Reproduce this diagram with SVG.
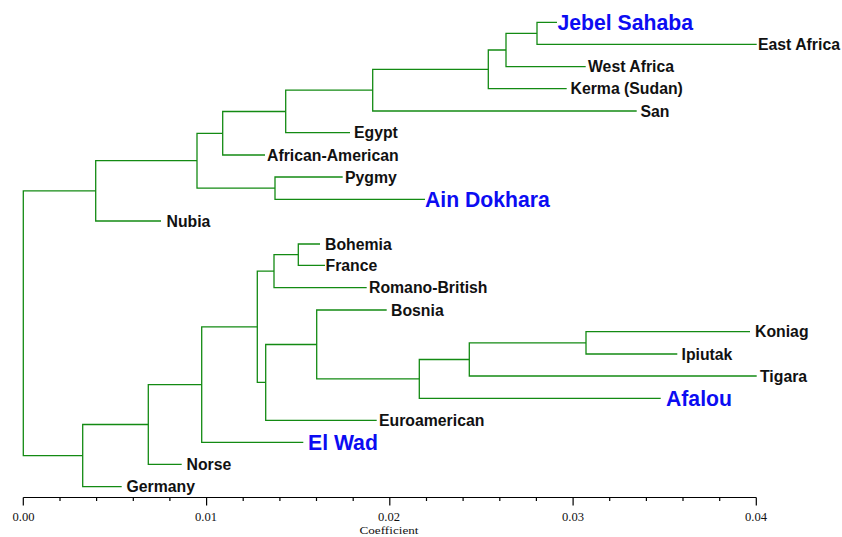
<svg xmlns="http://www.w3.org/2000/svg" width="842" height="537" viewBox="0 0 842 537">
<style>
.br{fill:none;stroke:#138a13;stroke-width:1.3}
.lb{font-family:"Liberation Sans",Arial,sans-serif;font-weight:bold;font-size:15.8px;fill:#111}
.bl{font-family:"Liberation Sans",Arial,sans-serif;font-weight:bold;font-size:21.2px;fill:#0c0cf2}
.ax{stroke:#000;stroke-width:1.2;fill:none}
.tk{font-family:"Liberation Serif","Times New Roman",serif;font-size:12px;fill:#111;text-anchor:middle}
</style>
<rect width="842" height="537" fill="#fff"/>
<g id="connectors">
<path class="br" d="M557 22.3H537V44.3H756.7"/>
<path class="br" d="M537 33.3H506V66.7H585.7"/>
<path class="br" d="M506 50H488.3V88.7H566.7"/>
<path class="br" d="M488.3 69.4H372.7V111H636.7"/>
<path class="br" d="M372.7 90.2H285.7V132.7H350"/>
<path class="br" d="M285.7 111.5H222.7V155H265"/>
<path class="br" d="M342.7 177H275V199.3H425"/>
<path class="br" d="M222.7 133.3H197V188.2H275"/>
<path class="br" d="M197 160.7H95.7V221H161"/>
<path class="br" d="M95.7 190.9H23.3V455.6H82.7"/>
<path class="br" d="M320 244H298.3V265.3H325"/>
<path class="br" d="M298.3 254.7H274V287.7H366.7"/>
<path class="br" d="M750 331.7H586V354H677.3"/>
<path class="br" d="M586 342.9H469.3V376H756.7"/>
<path class="br" d="M469.3 359.5H419.3V398.3H660.7"/>
<path class="br" d="M386.7 310H316.7V378.9H419.3"/>
<path class="br" d="M316.7 344.5H265.7V420.3H376.7"/>
<path class="br" d="M274 271.2H257.3V382.4H265.7"/>
<path class="br" d="M257.3 326.8H201.7V442.3H303.3"/>
<path class="br" d="M201.7 384.6H148.3V464.3H181.7"/>
<path class="br" d="M148.3 424.5H82.7V486.7H121.7"/>
</g>
<g id="n-jebel"><text class="bl" x="557.5" y="30">Jebel Sahaba</text></g>
<g id="n-eastafrica"><text class="lb" x="758" y="50">East Africa</text></g>
<g id="n-westafrica"><text class="lb" x="588" y="72.4">West Africa</text></g>
<g id="n-kerma"><text class="lb" x="570.5" y="94.4">Kerma (Sudan)</text></g>
<g id="n-san"><text class="lb" x="640.5" y="116.7">San</text></g>
<g id="n-egypt"><text class="lb" x="354" y="138.4">Egypt</text></g>
<g id="n-afram"><text class="lb" x="267" y="160.7">African-American</text></g>
<g id="n-pygmy"><text class="lb" x="345" y="182.7">Pygmy</text></g>
<g id="n-ain"><text class="bl" x="425" y="207">Ain Dokhara</text></g>
<g id="n-nubia"><text class="lb" x="166.5" y="226.7">Nubia</text></g>
<g id="n-bohemia"><text class="lb" x="325" y="249.7">Bohemia</text></g>
<g id="n-france"><text class="lb" x="325.5" y="271">France</text></g>
<g id="n-romano"><text class="lb" x="369" y="293.4">Romano-British</text></g>
<g id="n-bosnia"><text class="lb" x="391" y="315.7">Bosnia</text></g>
<g id="n-koniag"><text class="lb" x="755" y="337.4">Koniag</text></g>
<g id="n-ipiutak"><text class="lb" x="681.5" y="359.7">Ipiutak</text></g>
<g id="n-tigara"><text class="lb" x="760" y="381.7">Tigara</text></g>
<g id="n-afalou"><text class="bl" x="666" y="406">Afalou</text></g>
<g id="n-euro"><text class="lb" x="379" y="426">Euroamerican</text></g>
<g id="n-elwad"><text class="bl" x="308" y="450">El Wad</text></g>
<g id="n-norse"><text class="lb" x="186.5" y="470">Norse</text></g>
<g id="n-germany"><text class="lb" x="126.5" y="492.4">Germany</text></g>
<g id="axis">
<path class="ax" d="M23.3 497.5H756.3M23.3 497.5V505.5M206.6 497.5V505.5M389.8 497.5V505.5M573.1 497.5V505.5M756.3 497.5V505.5M60 497.5V501M96.6 497.5V501M133.3 497.5V501M169.9 497.5V501M243.2 497.5V501M279.9 497.5V501M316.5 497.5V501M353.2 497.5V501M426.5 497.5V501M463.1 497.5V501M499.8 497.5V501M536.4 497.5V501M609.7 497.5V501M646.4 497.5V501M683 497.5V501M719.7 497.5V501"/>
<text class="tk" x="23.5" y="521" textLength="22" lengthAdjust="spacingAndGlyphs">0.00</text>
<text class="tk" x="206" y="521" textLength="22" lengthAdjust="spacingAndGlyphs">0.01</text>
<text class="tk" x="389" y="521" textLength="22" lengthAdjust="spacingAndGlyphs">0.02</text>
<text class="tk" x="573" y="521" textLength="22" lengthAdjust="spacingAndGlyphs">0.03</text>
<text class="tk" x="756" y="521" textLength="22" lengthAdjust="spacingAndGlyphs">0.04</text>
<text class="tk" x="389" y="533.5" style="font-size:11px" textLength="59" lengthAdjust="spacingAndGlyphs">Coefficient</text>
</g>
</svg>
